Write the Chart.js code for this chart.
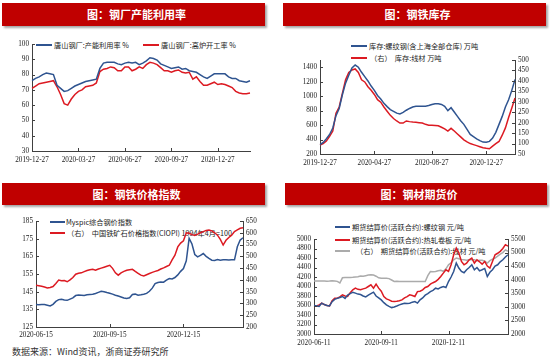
<!DOCTYPE html>
<html>
<head>
<meta charset="utf-8">
<script src="https://cdn.jsdelivr.net/npm/chart.js@4.4.0/dist/chart.umd.min.js"></script>
<style>
  body { margin: 0; width: 550px; height: 362px; background: #fff; position: relative; overflow: hidden; font-family: "Noto Sans CJK SC", sans-serif; }
  .bar { position: absolute; background: #c00000; color: #fff; font-weight: bold; font-size: 11px; text-align: center; box-shadow: 2px 2px 2px rgba(0,0,0,0.35); padding-left: 6px; box-sizing: border-box; }
  canvas { position: absolute; z-index: 2; }
  .lg { position: absolute; font-size: 7.2px; color: #222; white-space: pre; line-height: 9px; z-index: 1; }
  .sw { position: absolute; height: 1.6px; z-index: 1; }
  .src { position: absolute; left: 12px; top: 345px; font-size: 9px; color: #333; line-height: 13px; }
</style>
</head>
<body>
<div class="bar" style="left:2px;top:3px;width:263px;height:23px;line-height:23px">图：钢厂产能利用率</div>
<div class="bar" style="left:283px;top:3px;width:263px;height:23px;line-height:23px">图：钢铁库存</div>
<div class="bar" style="left:2px;top:183px;width:263px;height:22px;line-height:22px">图：钢铁价格指数</div>
<div class="bar" style="left:285px;top:183px;width:262px;height:22px;line-height:22px">图：钢材期货价</div>

<canvas id="c1" width="275" height="152" style="left:0;top:28px"></canvas>
<canvas id="c2" width="275" height="152" style="left:275px;top:28px"></canvas>
<canvas id="c3" width="275" height="140" style="left:0;top:205px"></canvas>
<canvas id="c4" width="275" height="157" style="left:275px;top:205px"></canvas>

<div class="src">数据来源：Wind资讯，浙商证券研究所</div>

<script>
// 钢厂产能利用率（周）
const utilTicks = ["2019-12-27", "2020-03-27", "2020-06-27", "2020-09-27", "2020-12-27"];
const utilTickIdx = [0, 13, 26, 39, 52];
const utilCapacity = [76, 77.5, 78.5, 80, 81, 80.5, 80, 73, 71, 69, 69.5, 71, 72.5, 73.5, 74.5, 75.5, 76, 76.5, 77, 84,
  87.5, 88, 88, 88, 87, 86.5, 87.5, 88, 87.5, 88, 86.5, 87.5, 89, 91, 90.5, 89.5, 87, 86, 85, 84,
  84.5, 85, 83.5, 84, 82.5, 82, 81.5, 80, 78.5, 77.5, 79, 80.5, 80.5, 80.5, 80.5, 78.5, 77.5, 77.5, 76, 75.5,
  75, 76];
const utilFurnace = [71, 72.5, 74, 74.5, 75, 75.5, 76, 72, 67, 61, 60, 64, 67, 69, 70, 72, 72.5, 73, 74.5, 82,
  83.5, 84, 85, 84.5, 82.5, 82.5, 85, 85, 82.5, 83.5, 85, 84, 86.5, 88, 87.5, 86.5, 84.5, 82.5, 82.5, 81.5,
  82.5, 83, 81.5, 81, 81.5, 77, 78.5, 75.5, 73, 73, 74, 75, 73.5, 74, 73.5, 72.5, 71.5, 69, 68, 67.5,
  67.5, 68];

// 钢铁库存（周）
const stockTicks = ["2019-12-27", "2020-04-27", "2020-08-27", "2020-12-27"];
const stockTickIdx = [0, 17, 35, 52];
const stockRebar = [330, 360, 410, 470, 560, 730, 830, 1020, 1180, 1290, 1390, 1430, 1400, 1330, 1270, 1210, 1140, 1080, 1010, 960,
  900, 855, 815, 790, 765, 755, 775, 805, 830, 850, 860, 860, 862, 862, 870, 885, 895, 895, 885, 860,
  800, 840, 780, 720, 660, 610, 540, 470, 440, 410, 385, 365, 362, 375, 420, 500, 610, 720, 850, 950,
  1080, 1230];
const stockWire = [93, 100, 112, 135, 160, 245, 275, 340, 405, 440, 452, 457, 440, 405, 395, 372, 355, 335, 310, 298,
  275, 255, 235, 220, 208, 198, 198, 208, 205, 203, 202, 200, 198, 192, 188, 188, 187, 185, 178, 170,
  160, 173, 160, 146, 132, 118, 108, 100, 95, 90, 85, 80, 77, 75, 88, 100, 110, 140, 175, 225,
  270, 318];

// 钢铁价格指数
const priceTicks = ["2020-06-15", "2020-09-15", "2020-12-15"];
const priceTickIdx = [0, 26, 52];
const priceMyspic = [137.8, 137.6, 137.8, 137.7, 137.3, 136.9, 137.8, 139.5, 140.5, 140.7, 140.3, 140.1, 140.8, 141.5, 142.8, 143.1, 143, 142.8, 143.2, 143.4,
  143.6, 144, 144.6, 145.2, 145, 144.5, 144.1, 143.6, 143, 142.5, 142, 141.4, 141.1, 141.5, 143.4, 143.6, 143, 143.2, 143.5, 144,
  145.2, 147, 149.6, 150.2, 150.5, 150.4, 151.5, 152.4, 152.2, 153, 154.5, 156.5, 158.1, 162.5, 175.2, 172, 166, 164.7, 165.5, 166.6,
  165, 163.8, 162.8, 162.6, 163.2, 162.8, 163, 163.1, 162.9, 163, 163, 170.4, 174.2, 175.5];
const priceCiopi = [377, 375, 373, 370, 366, 368, 372, 385, 399, 396, 397, 392, 400, 410, 424, 428, 430, 435, 440, 443,
  445, 441, 446, 450, 454, 458, 462, 449, 430, 420, 430, 436, 441, 443, 445, 436, 428, 420, 417, 422,
  427, 432, 436, 440, 446, 451, 457, 462, 485, 505, 540, 556, 566, 600, 598, 592, 589, 594, 600, 605,
  610, 612, 608, 600, 590, 572, 548, 568, 580, 590, 605, 612, 619, 621];

// 钢材期货价
const futTicks = ["2020-06-11", "2020-09-11", "2020-12-11"];
const futTickIdx = [0, 26, 52];
const futRebar = [3600, 3590, 3580, 3650, 3620, 3600, 3590, 3680, 3730, 3750, 3770, 3790, 3750, 3820, 3850, 3880, 3860, 3840, 3830, 3800,
  3780, 3817, 3850, 3880, 3800, 3760, 3718, 3660, 3613, 3580, 3556, 3570, 3590, 3613, 3630, 3648, 3640, 3648, 3670, 3683,
  3650, 3718, 3760, 3817, 3850, 3893, 3920, 3965, 3950, 3980, 4000, 3980, 4104, 4200, 4316, 4493, 4388, 4316, 4290, 4352,
  4400, 4457, 4352, 4400, 4330, 4352, 4380, 4210, 4300, 4352, 4430, 4457, 4520, 4563, 4620, 4668];
const futHotCoil = [3577, 3590, 3613, 3648, 3620, 3598, 3590, 3700, 3754, 3754, 3780, 3824, 3800, 3790, 3870, 3930, 3965, 3940, 3930, 3950,
  3965, 4000, 4035, 3965, 4050, 3965, 3900, 3788, 3740, 3718, 3690, 3683, 3690, 3700, 3718, 3760, 3788, 3824, 3810, 3790,
  3893, 3900, 3930, 3980, 4000, 4050, 4080, 4104, 4150, 4210, 4282, 4352, 4320, 4457, 4668, 4810, 4704, 4527, 4457, 4493,
  4560, 4598, 4493, 4563, 4520, 4470, 4527, 4430, 4388, 4527, 4668, 4700, 4740, 4800, 4880, 4850];
const futWire = [3950, 3950, 3950, 3955, 3950, 3945, 3950, 3960, 3955, 3940, 3880, 4070, 4080, 4080, 4085, 4090, 4100, 4110, 4135, 4130,
  4150, 4170, 4185, 4170, 4130, 4070, 4055, 4050, 4050, 4040, 3990, 3935, 3945, 3935, 3935, 3930, 3935, 3935, 3935, 3935,
  3935, 3935, 3935, 3935, 4150, 4300, 4290, 4300, 4330, 4350, 4310, 4400, 4550, 4620, 4735, 4800, 4770, 4740, 4735, 4720,
  4740, 4740, 4735, 4700, 4720, 4715, 4680, 4612, 4700, 4760, 4800, 4870, 4945, 5000, 5100, 5050];

const BLUE = "#2f5490";
const RED = "#dc1a22";
const GREY = "#ababab";
const AXIS = "#404040";
const TXT = "#222";
const tickFont = { family: "'Liberation Serif', 'DejaVu Serif', serif", size: 7.2 };

const makeLabels = (n, idx, names) =>
  Array.from({ length: n }, (_, i) => {
    const k = idx.indexOf(i);
    return k >= 0 ? names[k] : "";
  });

// small tick marks pointing into the plot
const innerTicks = {
  id: "innerTicks",
  afterDraw(chart) {
    const { ctx, chartArea: a } = chart;
    ctx.save();
    ctx.strokeStyle = AXIS;
    ctx.lineWidth = 1;
    Object.values(chart.scales).forEach((s) => {
      s.ticks.forEach((t, i) => {
        if (t.label === "" || t.label == null) return;
        const p = Math.round(s.getPixelForTick(i)) + 0.5;
        ctx.beginPath();
        if (s.axis === "x") {
          ctx.moveTo(p, a.bottom);
          ctx.lineTo(p, a.bottom - 3);
        } else if (s.position === "left") {
          ctx.moveTo(a.left, p);
          ctx.lineTo(a.left + 3, p);
        } else {
          ctx.moveTo(a.right, p);
          ctx.lineTo(a.right - 3, p);
        }
        ctx.stroke();
      });
    });
    ctx.restore();
  },
};

function yAxis(pos, min, max, step, width, last) {
  return {
    position: pos,
    min,
    max,
    grid: { display: true, drawOnChartArea: false, drawTicks: false },
    border: { display: true, color: AXIS },
    ticks: { autoSkip: false, padding: 3, color: TXT, font: tickFont, callback: (v) => String(v) },
    afterBuildTicks: (s) => {
      const ticks = [];
      for (let v = min; v <= last; v += step) ticks.push({ value: v });
      s.ticks = ticks;
    },
    afterFit: (s) => { s.width = width; },
  };
}

function xAxis(pad, height) {
  return {
    grid: { display: true, drawOnChartArea: false, drawTicks: false },
    border: { display: true, color: AXIS },
    ticks: { autoSkip: false, maxRotation: 0, minRotation: 0, padding: pad, color: TXT, font: tickFont },
    afterFit: (s) => { s.height = height; },
  };
}

const line = (data, color, axis) => ({
  data,
  borderColor: color,
  borderWidth: 1.5,
  pointRadius: 0,
  tension: 0,
  fill: false,
  yAxisID: axis,
});

const baseOptions = (padding) => ({
  responsive: false,
  animation: false,
  layout: { padding },
  plugins: { legend: { display: false }, tooltip: { enabled: false } },
});

function createChart(id, config) {
  const el = document.getElementById(id);
  if (!el) return;
  new Chart(el, { ...config, plugins: [innerTicks] });
}

createChart("c1", {
  type: "line",
  data: {
    labels: makeLabels(utilCapacity.length, utilTickIdx, utilTicks),
    datasets: [line(utilCapacity, BLUE, "y"), line(utilFurnace, RED, "y")],
  },
  options: {
    ...baseOptions({ left: 0, right: 25, top: 16, bottom: 13 }),
    scales: { x: xAxis(5, 16), y: yAxis("left", 30, 100, 10, 32, 100) },
  },
});

createChart("c2", {
  type: "line",
  data: {
    labels: makeLabels(stockRebar.length, stockTickIdx, stockTicks),
    datasets: [line(stockRebar, BLUE, "y"), line(stockWire, RED, "y1")],
  },
  options: {
    ...baseOptions({ left: 0, right: 0, top: 32, bottom: 10 }),
    scales: {
      x: xAxis(5, 16),
      y: yAxis("left", 200, 1500, 200, 45, 1400),
      y1: yAxis("right", 50, 500, 50, 35, 500),
    },
  },
});

createChart("c3", {
  type: "line",
  data: {
    labels: makeLabels(priceMyspic.length, priceTickIdx, priceTicks),
    datasets: [line(priceMyspic, BLUE, "y"), line(priceCiopi, RED, "y1")],
  },
  options: {
    ...baseOptions({ left: 0, right: 0, top: 16, bottom: 4 }),
    scales: {
      x: xAxis(4, 14),
      y: yAxis("left", 125, 185, 10, 36, 185),
      y1: yAxis("right", 200, 650, 50, 32, 650),
    },
  },
});

createChart("c4", {
  type: "line",
  data: {
    labels: makeLabels(futRebar.length, futTickIdx, futTicks),
    datasets: [line(futRebar, BLUE, "y"), line(futHotCoil, RED, "y"), line(futWire, GREY, "y1")],
  },
  options: {
    ...baseOptions({ left: 0, right: 0, top: 34, bottom: 12 }),
    scales: {
      x: xAxis(5, 16),
      y: yAxis("left", 3000, 5000, 200, 39, 5000),
      y1: yAxis("right", 2000, 5500, 500, 42, 5500),
    },
  },
});

// legends sit under the canvases so the lines cross over them
function addLegend(x, y, w, color, text, tx) {
  const sw = document.createElement("div");
  sw.className = "sw";
  sw.style.cssText = `left:${x}px;top:${y - 0.8}px;width:${w}px;background:${color}`;
  document.body.appendChild(sw);
  const lg = document.createElement("div");
  lg.className = "lg";
  lg.style.cssText = `left:${tx}px;top:${y - 4.5}px`;
  lg.textContent = text;
  document.body.appendChild(lg);
}

addLegend(36, 45, 16, BLUE, "唐山钢厂:产能利用率 %", 54);
addLegend(143, 45, 16, RED, "唐山钢厂:高炉开工率 %", 161);
addLegend(351, 46, 16, BLUE, "库存:螺纹钢(含上海全部仓库) 万吨", 369);
addLegend(351, 58, 16, RED, "（右）  库存:线材 万吨", 370);
addLegend(50, 222, 15, BLUE, "Myspic综合钢价指数", 66);
addLegend(50, 233, 15, RED, "（右）  中国铁矿石价格指数(CIOPI) 1994年4月=100", 67);
addLegend(335, 227, 15, BLUE, "期货结算价(活跃合约):螺纹钢 元/吨", 352);
addLegend(335, 240, 15, RED, "期货结算价(活跃合约):热轧卷板 元/吨", 352);
addLegend(335, 251, 15, GREY, "（右）  期货结算价(活跃合约):线材 元/吨", 356);
</script>
</body>
</html>
